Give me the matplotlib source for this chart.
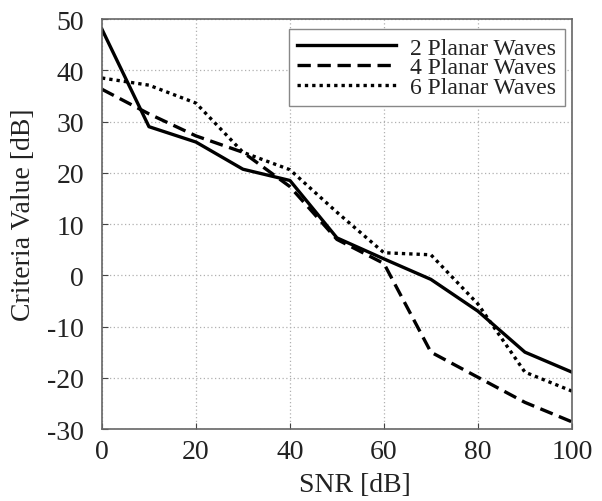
import matplotlib
matplotlib.use("Agg")
import matplotlib.pyplot as plt

snr = [0, 10, 20, 30, 40, 50, 60, 70, 80, 90, 100]
waves_2 = [48, 29, 26, 20.7, 18.5, 7.3, 3.2, -0.8, -7, -15, -18.9]
waves_4 = [36.3, 31.5, 27.2, 24, 17.3, 7, 2.3, -15, -19.9, -24.8, -28.6]
waves_6 = [38.5, 37.1, 33.6, 24, 20.6, 12.3, 4.4, 4.0, -5.6, -18.9, -22.6]
labels = ["2 Planar Waves", "4 Planar Waves", "6 Planar Waves"]

plt.rcParams["font.family"] = ["Liberation Serif", "DejaVu Serif"]
plt.rcParams["axes.unicode_minus"] = False

fig = plt.figure(figsize=(6.02, 5.02), dpi=100)
ax = fig.add_axes([0.1694, 0.1434, 0.7806, 0.8166])

ax.plot(snr, waves_2, color="black", lw=2.4, linestyle="-", label=labels[0])
ax.plot(snr, waves_4, color="black", lw=2.4, linestyle=(0, (4, 2)), label=labels[1])
ax.plot(snr, waves_6, color="black", lw=2.4, linestyle=(0, (1, 1.2)), label=labels[2])

ax.set_xlim(0, 100)
ax.set_ylim(-30, 50)
ax.set_xticks(range(0, 101, 20))
ax.set_yticks(range(-30, 51, 10))
ax.grid(True, color="#b0b0b0", linestyle=(0, (1, 2)), lw=0.9)
ax.tick_params(direction="in", length=4, labelsize=20, colors="#444444", labelcolor="#222222")
ax.tick_params(axis="y", pad=13)
ax.tick_params(axis="x", pad=7)
for s in ax.spines.values():
    s.set_color("#666666")
    s.set_linewidth(1.2)

ax.set_xlabel("SNR [dB]", fontsize=20, color="#222222")
ax.set_ylabel("Criteria Value [dB]", fontsize=20, color="#222222")
ax.xaxis.set_label_coords(0.538, -0.105)
ax.yaxis.set_label_coords(-0.14, 0.524)

leg = ax.legend(loc="upper right", bbox_to_anchor=(0.985, 0.976), borderaxespad=0,
                fontsize=17, fancybox=False, framealpha=1, edgecolor="#888888",
                handlelength=4.2, handletextpad=0.6, labelspacing=-0.08,
                borderpad=0.35)
leg.get_frame().set_linewidth(1.0)
for t in leg.get_texts():
    t.set_color("#222222")

fig.savefig("out.png", dpi=100)
